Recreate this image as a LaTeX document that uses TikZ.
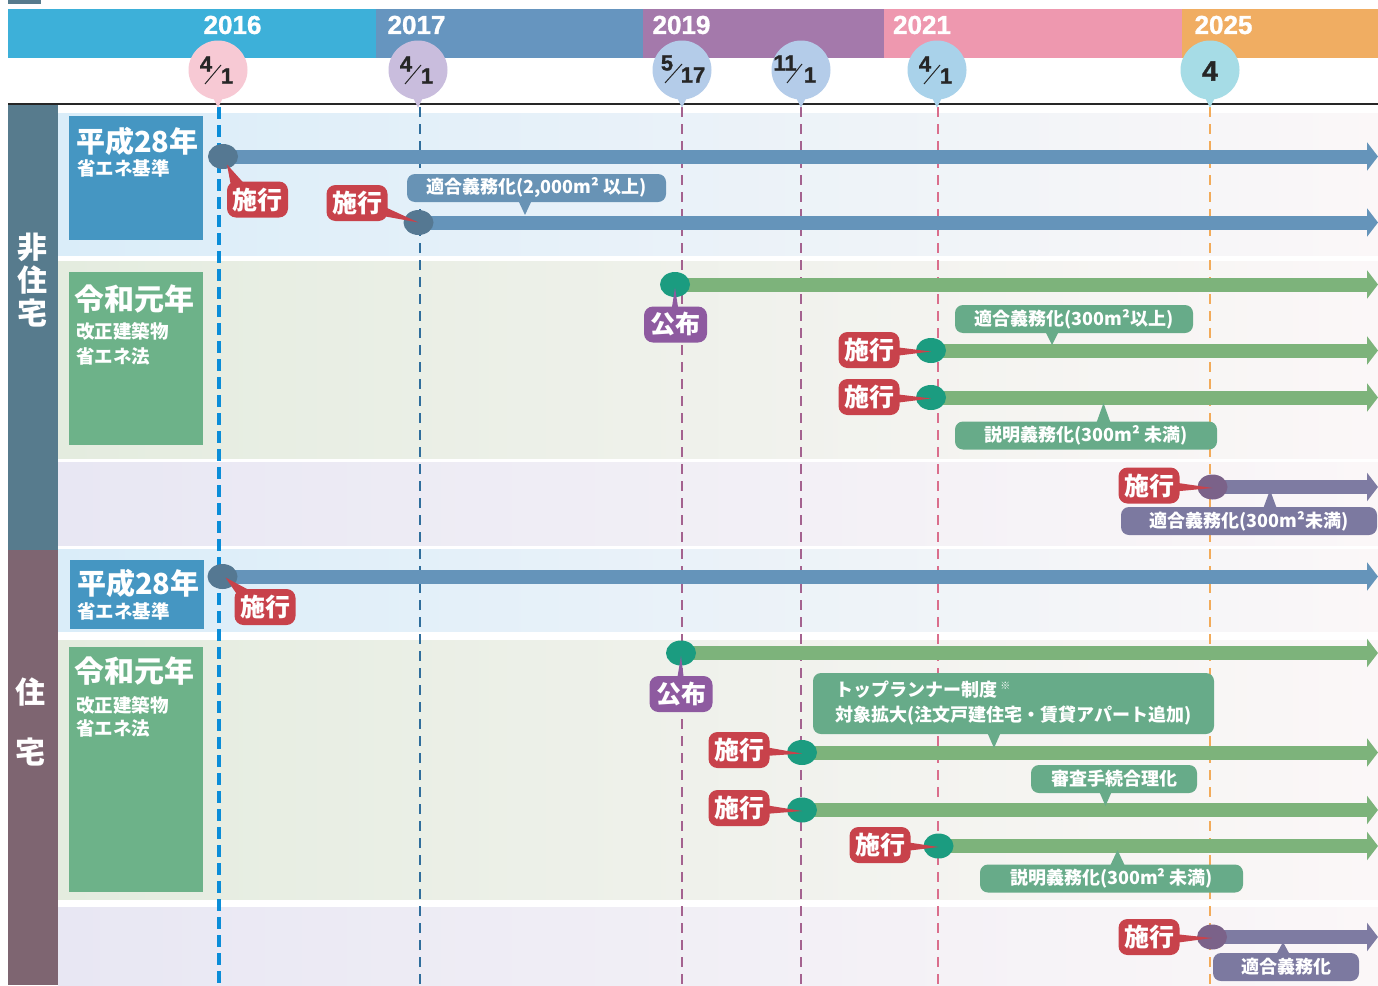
\documentclass[tikz,border=0pt]{standalone}
\usepackage{fontspec}
\newfontfamily\jp{Noto Sans CJK JP}
\newfontfamily\lat{Liberation Sans}[BoldFont={Liberation Sans Bold},BoldFeatures={FakeBold=1.2}]
\usetikzlibrary{arrows.meta,calc,shapes.geometric}
\pgfdeclarelayer{bgl}
\pgfdeclarelayer{midl}
\pgfsetlayers{bgl,midl,main}
\definecolor{cB16}{HTML}{3DB0D9}
\definecolor{cB17}{HTML}{6695BF}
\definecolor{cB19}{HTML}{A479AB}
\definecolor{cB21}{HTML}{EE98AF}
\definecolor{cB25}{HTML}{F0AD62}
\definecolor{cStripN}{HTML}{577B8D}
\definecolor{cStripR}{HTML}{7E6571}
\definecolor{cLblBlue}{HTML}{4596C2}
\definecolor{cLblGreen}{HTML}{6DB289}
\definecolor{cBarBlue}{HTML}{6594BA}
\definecolor{cBarGreen}{HTML}{7DB37B}
\definecolor{cBarPurple}{HTML}{7E7BA2}
\definecolor{cDotBlue}{HTML}{557892}
\definecolor{cDotGreen}{HTML}{1B9C80}
\definecolor{cDotPurple}{HTML}{7B6289}
\definecolor{cRed}{HTML}{C8424B}
\definecolor{cPur}{HTML}{8E5AA0}
\definecolor{cNoteBlue}{HTML}{6893B5}
\definecolor{cNoteGreen}{HTML}{67AB89}
\definecolor{cNotePurple}{HTML}{7C79A0}
\definecolor{bgA}{HTML}{DAEDF9}
\definecolor{bgB}{HTML}{E4ECDF}
\definecolor{bgC}{HTML}{E8E7F3}
\definecolor{bgEnd}{HTML}{FBF7F8}
\definecolor{dcA}{HTML}{F7C9D4}
\definecolor{dcB}{HTML}{C9BDDD}
\definecolor{dcC}{HTML}{B4CCE9}
\definecolor{dcE}{HTML}{A9D2EA}
\definecolor{dcF}{HTML}{A6DCE6}
\definecolor{dlA}{HTML}{0B8DD8}
\definecolor{dlB}{HTML}{306E9C}
\definecolor{dlC}{HTML}{A4628F}
\definecolor{dlE}{HTML}{DA6E8C}
\definecolor{dlF}{HTML}{F2AB5A}
\begin{document}
\begin{tikzpicture}[x=1pt,y=-1pt,
  yr/.style={text=white,font={\lat\bfseries\fontsize{26}{26}\selectfont},inner sep=0pt},
  datec/.style={circle,minimum size=59pt,inner sep=0pt},
  dnum/.style={text=black!85,font={\lat\bfseries\fontsize{22}{22}\selectfont},inner sep=0pt},
  slashline/.style={black!85,line width=1pt},
  vline/.style={dash pattern=on 10pt off 7pt,line width=2.2pt},
  tbar/.style={line width=14pt,-{Triangle[length=11pt 0 0,width=28pt 0 0]}},
  sdot/.style={ellipse,minimum width=30pt,minimum height=25pt,inner sep=0pt},
  shikou/.style={fill=cRed,text=white,rounded corners=9pt,minimum width=61pt,minimum height=36pt,inner sep=0pt,font={\jp\bfseries\fontsize{25}{25}\selectfont}},
  koufu/.style={shikou,fill=cPur,minimum width=63pt},
  notebox/.style={text=white,rounded corners=8pt,minimum height=28pt,inner sep=0pt,font={\jp\bfseries\fontsize{18}{18}\selectfont}},
  titl/.style={text=white,anchor=west,inner sep=0pt,font={\jp\bfseries\fontsize{29}{29}\selectfont}},
  subl/.style={text=white,anchor=west,inner sep=0pt,font={\jp\bfseries\fontsize{18.5}{18.5}\selectfont}},
  sidech/.style={text=white,inner sep=0pt,font={\jp\bfseries\fontsize{30}{30}\selectfont}},
  lblbox/.style={anchor=north west,inner sep=0pt}
]
\useasboundingbox (0,0) rectangle (1378,985);

\begin{pgfonlayer}{bgl}
\fill[white] (0,0) rectangle (1378,985);
\fill[cStripN] (8,0) rectangle (41,3.5);
% header bands
\fill[cB16] (8,9) rectangle (376,58);
\fill[cB17] (376,9) rectangle (643,58);
\fill[cB19] (643,9) rectangle (884,58);
\fill[cB21] (884,9) rectangle (1182,58);
\fill[cB25] (1182,9) rectangle (1378,58);
\draw[line width=2pt,black!85] (8,104) -- (1378,104);
% side strips
\fill[cStripN] (8,105) rectangle (58,550);
\fill[cStripR] (8,550) rectangle (58,985);
% row backgrounds
\shade[left color=bgA,right color=bgEnd] (58,113) rectangle (1378,255);
\shade[left color=bgB,right color=bgEnd] (58,261) rectangle (1378,458);
\shade[left color=bgC,right color=bgEnd] (58,462) rectangle (1378,545);
\shade[left color=bgA,right color=bgEnd] (58,549) rectangle (1378,631);
\shade[left color=bgB,right color=bgEnd] (58,640) rectangle (1378,899);
\shade[left color=bgC,right color=bgEnd] (58,907) rectangle (1378,985);
% vertical dashed lines
\coordinate (t1) at (219,107); \coordinate (b1) at (219,985);
\coordinate (t2) at (420,107); \coordinate (b2) at (420,985);
\coordinate (t3) at (682,107); \coordinate (b3) at (682,985);
\coordinate (t4) at (801,107); \coordinate (b4) at (801,985);
\coordinate (t5) at (938,107); \coordinate (b5) at (938,985);
\coordinate (t6) at (1210,107); \coordinate (b6) at (1210,985);
\draw[dlA,line width=4.5pt,dash pattern=on 12pt off 6pt] (t1) -- (b1);
\draw[vline,dlB,line width=2.8pt] (t2) -- (b2);
\draw[vline,dlC] (t3) -- (b3);
\draw[vline,dlC] (t4) -- (b4);
\draw[vline,dlE] (t5) -- (b5);
\draw[vline,dlF] (t6) -- (b6);
\end{pgfonlayer}

% year labels
\node[yr] (y16) at (232.5,25) {2016};
\node[yr] (y17) at (416.5,25) {2017};
\node[yr] (y19) at (681.5,25) {2019};
\node[yr] (y21) at (922,25) {2021};
\node[yr] (y25) at (1223.5,25) {2025};

% side texts
\node[sidech] (c1) at (32,247) {非};
\node[sidech] (c2) at (32,280) {住};
\node[sidech] (c3) at (32,313) {宅};
\node[sidech] (c4) at (31,692) {住};
\node[sidech] (c5) at (31,752) {宅};

% label boxes
\node[lblbox,fill=cLblBlue,minimum width=134pt,minimum height=124pt] (L1) at (69,116) {};
\node[titl] (L1a) at (76,141) {平成28年};
\node[subl] (L1b) at (77,168.5) {省エネ基準};
\node[lblbox,fill=cLblGreen,minimum width=134pt,minimum height=173pt] (L2) at (69,272) {};
\node[titl,font={\jp\bfseries\fontsize{30}{30}\selectfont}] (L2a) at (74,299) {令和元年};
\node[subl] (L2b) at (76,331.5) {改正建築物};
\node[subl] (L2c) at (76,356.5) {省エネ法};
\node[lblbox,fill=cLblBlue,minimum width=134pt,minimum height=69pt] (L3) at (70,560) {};
\node[titl] (L3a) at (77,583) {平成28年};
\node[subl] (L3b) at (77,611.5) {省エネ基準};
\node[lblbox,fill=cLblGreen,minimum width=134pt,minimum height=245pt] (L4) at (69,647) {};
\node[titl,font={\jp\bfseries\fontsize{30}{30}\selectfont}] (L4a) at (74,671.5) {令和元年};
\node[subl] (L4b) at (76,705) {改正建築物};
\node[subl] (L4c) at (76,728.5) {省エネ法};

% date circles
\node[datec,fill=dcA] (d1) at (218,70) {};
\node[datec,fill=dcB] (d2) at (418,70) {};
\node[datec,fill=dcC] (d3) at (682,70) {};
\node[datec,fill=dcC] (d4) at (801,70) {};
\node[datec,fill=dcE] (d5) at (937,70) {};
\node[datec,fill=dcF] (d6) at (1210,70) {};
\foreach \d/\c in {d1/dcA,d2/dcB,d3/dcC,d4/dcC,d5/dcE,d6/dcF}{
  \fill[\c] ($(\d.south)+(-6,-4)$) -- ($(\d.south)+(0,8)$) -- ($(\d.south)+(6,-4)$) -- cycle;
}
\foreach \d in {d1,d2,d5}{
  \node[dnum] at ($(\d.center)+(-12,-6)$) {4};
  \node[dnum] at ($(\d.center)+(9,6)$) {1};
  \draw[slashline] ($(\d.center)+(-13,14)$) -- ($(\d.center)+(3,-5)$);
}
\node[dnum] at ($(d3.center)+(-15,-7)$) {5};
\node[dnum] at ($(d3.center)+(11,5)$) {17};
\draw[slashline] ($(d3.center)+(-17,13)$) -- ($(d3.center)+(0,-6)$);
\node[dnum] at ($(d4.center)+(-16,-7)$) {11};
\node[dnum] at ($(d4.center)+(9,5)$) {1};
\draw[slashline] ($(d4.center)+(-14,13)$) -- ($(d4.center)+(1,-6)$);
\node[dnum,font={\lat\bfseries\fontsize{28}{28}\selectfont}] at ($(d6.center)+(0,1)$) {4};

% start dots
\node[sdot,fill=cDotBlue] (a1) at (223,156.5) {};
\node[sdot,fill=cDotBlue] (a2) at (418.5,222.5) {};
\node[sdot,fill=cDotGreen] (g1) at (675,284.5) {};
\node[sdot,fill=cDotGreen] (g2) at (931,350.5) {};
\node[sdot,fill=cDotGreen] (g3) at (931,397.5) {};
\node[sdot,fill=cDotPurple] (p1) at (1212.5,487) {};
\node[sdot,fill=cDotBlue] (a3) at (222.5,576.5) {};
\node[sdot,fill=cDotGreen] (g4) at (681,653) {};
\node[sdot,fill=cDotGreen] (g5) at (802,752.5) {};
\node[sdot,fill=cDotGreen] (g6) at (802,810) {};
\node[sdot,fill=cDotGreen] (g7) at (938.5,846) {};
\node[sdot,fill=cDotPurple] (p2) at (1212,937) {};

% bar ends
\coordinate (ea1) at (1378,156.5);
\coordinate (ea2) at (1378,222.5);
\coordinate (eg1) at (1378,284.5);
\coordinate (eg2) at (1378,350.5);
\coordinate (eg3) at (1378,397.5);
\coordinate (ep1) at (1378,487);
\coordinate (ea3) at (1378,576.5);
\coordinate (eg4) at (1378,653);
\coordinate (eg5) at (1378,752.5);
\coordinate (eg6) at (1378,810);
\coordinate (eg7) at (1378,846);
\coordinate (ep2) at (1378,937);

\begin{pgfonlayer}{midl}
\draw[tbar,cBarBlue] (a1.center) -- (ea1);
\draw[tbar,cBarBlue] (a2.center) -- (ea2);
\draw[tbar,cBarGreen] (g1.center) -- (eg1);
\draw[tbar,cBarGreen] (g2.center) -- (eg2);
\draw[tbar,cBarGreen] (g3.center) -- (eg3);
\draw[tbar,cBarPurple] (p1.center) -- (ep1);
\draw[tbar,cBarBlue] (a3.center) -- (ea3);
\draw[tbar,cBarGreen] (g4.center) -- (eg4);
\draw[tbar,cBarGreen] (g5.center) -- (eg5);
\draw[tbar,cBarGreen] (g6.center) -- (eg6);
\draw[tbar,cBarGreen] (g7.center) -- (eg7);
\draw[tbar,cBarPurple] (p2.center) -- (ep2);
\end{pgfonlayer}

% shikou callouts
\node[shikou] (s1) at (257.5,199.5) {施行};
\fill[cRed] ($(s1.north west)+(5,9)$) -- ($(a1.center)+(4,8)$) -- ($(s1.north west)+(18,3)$) -- cycle;
\node[shikou] (s2) at (357,203) {施行};
\fill[cRed] ($(s2.east)+(-5,3)$) -- ($(a2.center)+(0,0)$) -- ($(s2.east)+(-5,13)$) -- cycle;
\node[shikou] (s6) at (265,607) {施行};
\fill[cRed] ($(s6.north west)+(5,9)$) -- ($(a3.center)+(3,1)$) -- ($(s6.north west)+(18,3)$) -- cycle;
\foreach \s/\p/\q in {s3/869/350,s4/869/397,s5/1149/485.5,s7/739/750,s8/739/808,s9/880/845,s10/1149/937}{
  \node[shikou] (\s) at (\p,\q) {施行};
}
\foreach \s/\t in {s3/g2,s4/g3,s5/p1,s7/g5,s8/g6,s9/g7,s10/p2}{
  \fill[cRed] ($(\s.east)+(-5,-3)$) -- ($(\t.center)+(0,1)$) -- ($(\s.east)+(-5,6)$) -- cycle;
}
% koufu
\node[koufu] (k1) at (675.5,324.5) {公布};
\fill[cPur] ($(k1.north)+(-4,4)$) -- ($(g1.center)+(0,3)$) -- ($(k1.north)+(3,4)$) -- cycle;
\node[koufu] (k2) at (681,694) {公布};
\fill[cPur] ($(k2.north)+(-4,4)$) -- ($(g4.center)+(0,3)$) -- ($(k2.north)+(3,4)$) -- cycle;

% notes
\node[notebox,fill=cNoteBlue,minimum width=259pt] (n1) at (536.5,188) {適合義務化(2,000m² 以上)};
\fill[cNoteBlue] (518,200) -- (525,215) -- (532,200) -- cycle;
\node[notebox,fill=cNoteGreen,minimum width=238pt] (n2) at (1074,319) {適合義務化(300m²以上)};
\fill[cNoteGreen] (1045,331) -- (1052,345) -- (1059,331) -- cycle;
\node[notebox,fill=cNoteGreen,minimum width=262pt] (n3) at (1086,435.5) {説明義務化(300m² 未満)};
\fill[cNoteGreen] (1096,424) -- (1103.5,403) -- (1111,424) -- cycle;
\node[notebox,fill=cNotePurple,minimum width=256pt] (n4) at (1249,521) {適合義務化(300m²未満)};
\fill[cNotePurple] (1263,509) -- (1270,490) -- (1277,509) -- cycle;
\node[notebox,fill=cNoteGreen,minimum width=401pt,minimum height=61pt,align=left,
  font={\jp\bfseries\fontsize{18}{25}\selectfont}] (n5) at (1013.5,703.5)
  {トップランナー制度\,{\fontsize{10}{10}\selectfont\raisebox{7pt}{※}}\\対象拡大(注文戸建住宅・賃貸アパート追加)};
\fill[cNoteGreen] (987,732) -- (994,748) -- (1001,732) -- cycle;
\node[notebox,fill=cNoteGreen,minimum width=166pt] (n6) at (1114,779) {審査手続合理化};
\fill[cNoteGreen] (1099,791) -- (1105.5,806) -- (1112,791) -- cycle;
\node[notebox,fill=cNoteGreen,minimum width=263pt] (n7) at (1111.5,878.5) {説明義務化(300m² 未満)};
\fill[cNoteGreen] (1110,866) -- (1117.5,850) -- (1125,866) -- cycle;
\node[notebox,fill=cNotePurple,minimum width=146pt] (n8) at (1286,967) {適合義務化};
\fill[cNotePurple] (1276,955) -- (1283,942) -- (1290,955) -- cycle;
\end{tikzpicture}
\end{document}
